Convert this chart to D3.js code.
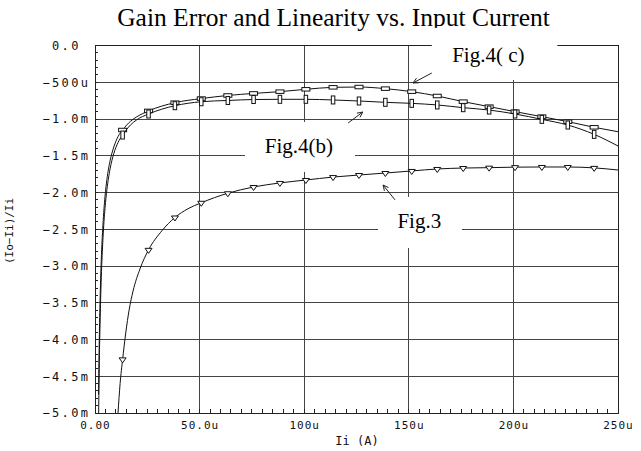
<!DOCTYPE html>
<html><head><meta charset="utf-8">
<script src="https://cdn.jsdelivr.net/npm/d3@7"></script>
<style>body{margin:0;background:#fff} svg{display:block}</style>
</head><body>
<svg id="c" width="641" height="451"></svg>
<script>
// ---------- data ----------
const titleText = "Gain Error and Linearity vs. Input Current";
const xTitle = "Ii (A)";
const yTitle = "(Io−Ii)/Ii";
const xTickValues = [0, 50, 100, 150, 200, 250];            // uA
const xTickLabels = ["0.00", "50.0u", "100u", "150u", "200u", "250u"];
const yTickValues = [0, -0.5, -1, -1.5, -2, -2.5, -3, -3.5, -4, -4.5, -5]; // milli
const yTickLabels = ["0.0", "−500u", "−1.0m", "−1.5m", "−2.0m", "−2.5m", "−3.0m", "−3.5m", "−4.0m", "−4.5m", "−5.0m"];

const markerCurrents = [13.2, 25.6, 38.2, 50.8, 63.5, 75.8, 88.4, 100.8, 113.8, 126.2, 138.8, 151.4, 163.6, 176, 188.4, 200.8, 213.6, 226, 238.6];

const fig4cCurrent = [1.7, 2.0, 2.4, 3.0, 3.8, 4.8, 5.7, 7.2, 9.0, 11.0, 13.2, 17, 20, 25.6, 38.2, 50.8, 63.5, 75.8, 88.4, 100.8, 113.8, 126.2, 138.8, 151.4, 163.6, 176, 188.4, 200.8, 213.6, 226, 238.6, 250];
const fig4cError   = [-4.75, -4.1, -3.5, -2.92, -2.44, -2.05, -1.82, -1.57, -1.38, -1.24, -1.15, -1.03, -0.97, -0.89, -0.778, -0.722, -0.68, -0.652, -0.628, -0.596, -0.569, -0.565, -0.587, -0.628, -0.687, -0.764, -0.832, -0.90, -0.968, -1.036, -1.113, -1.173];

const fig4bCurrent = [1.75, 2.0, 2.4, 3.0, 3.8, 4.8, 5.7, 7.2, 9.0, 11.0, 13.2, 17, 20, 25.6, 38.2, 50.8, 63.5, 75.8, 88.4, 100.8, 113.8, 126.2, 138.8, 151.4, 163.6, 176, 188.4, 200.8, 213.6, 226, 238.6, 250];
const fig4bError   = [-5.0, -4.4, -3.8, -3.16, -2.63, -2.21, -1.96, -1.68, -1.47, -1.32, -1.218, -1.08, -1.01, -0.932, -0.819, -0.765, -0.748, -0.735, -0.732, -0.732, -0.741, -0.755, -0.773, -0.787, -0.809, -0.846, -0.878, -0.932, -1.005, -1.082, -1.209, -1.367];

const fig3Current = [11.0, 12.0, 13.2, 16.3, 18.2, 21.5, 25.6, 32, 38.2, 44.5, 50.8, 63.5, 75.8, 88.4, 100.8, 113.8, 126.2, 138.8, 151.4, 163.6, 176, 188.4, 200.8, 213.6, 226, 238.6, 250];
const fig3Error   = [-5.0, -4.6, -4.27, -3.6, -3.34, -3.04, -2.78, -2.52, -2.34, -2.22, -2.14, -2.01, -1.925, -1.87, -1.83, -1.79, -1.762, -1.735, -1.707, -1.68, -1.667, -1.662, -1.655, -1.653, -1.653, -1.665, -1.694];

// ---------- layout ----------
const svg = d3.select("#c");
const x = d3.scaleLinear().domain([0, 250]).range([95, 618]);
const y = d3.scaleLinear().domain([0, -5]).range([45.5, 413]);
const ink = "#111";
const gridCol = "#444";
const monoFont = "'DejaVu Sans Mono', monospace";
const serifFont = "'Liberation Serif', 'Times New Roman', serif";

// title
svg.append("text").attr("x", 333.5).attr("y", 26).attr("text-anchor", "middle")
  .attr("font-family", serifFont).attr("font-size", 25.5).attr("fill", "#000").text(titleText);

// grid
const grid = svg.append("g").attr("shape-rendering", "crispEdges").attr("stroke", gridCol).attr("stroke-width", 1);
grid.selectAll("line.h").data(yTickValues.slice(1, -1)).join("line").attr("class", "h")
  .attr("x1", x(0)).attr("x2", x(250)).attr("y1", d => y(d)).attr("y2", d => y(d));
grid.selectAll("line.v").data(xTickValues.slice(1, -1)).join("line").attr("class", "v")
  .attr("y1", y(0)).attr("y2", y(-5)).attr("x1", d => x(d)).attr("x2", d => x(d));

// frame
svg.append("rect").attr("x", x(0)).attr("y", y(0)).attr("width", x(250) - x(0)).attr("height", y(-5) - y(0))
  .attr("fill", "none").attr("stroke", "#222").attr("shape-rendering", "crispEdges");

// minor ticks (inside)
const yMinor = d3.range(0, 51).map(i => -i / 10);
const xMinor = d3.range(0, 51).map(i => i * 5);
const mt = svg.append("g").attr("stroke", "#222").attr("shape-rendering", "crispEdges");
mt.selectAll("line.ym").data(yMinor).join("line").attr("class", "ym")
  .attr("x1", x(0)).attr("x2", x(0) + 3).attr("y1", d => y(d)).attr("y2", d => y(d));
mt.selectAll("line.xm").data(xMinor).join("line").attr("class", "xm")
  .attr("x1", d => x(d)).attr("x2", d => x(d)).attr("y1", y(-5)).attr("y2", y(-5) - 4);

// label boxes (white) – annotations, placed in data space
const annotations = [
  { text: "Fig.4( c)", tx: 188, ty: -0.224, box: [161, 221, 0.24, -0.469], tail: [161, -0.374], head: [152, -0.51] },
  { text: "Fig.4(b)", tx: 97.5, ty: -1.463, box: [71.7, 124.3, -1.04, -1.72], tail: [121, -1.054], head: [128, -0.905] },
  { text: "Fig.3", tx: 155, ty: -2.483, box: [135.3, 175.4, -2.06, -2.755], tail: [143.4, -2.1], head: [137.7, -1.898] }
];
svg.append("g").selectAll("rect").data(annotations).join("rect")
  .attr("x", d => x(d.box[0])).attr("width", d => x(d.box[1]) - x(d.box[0]))
  .attr("y", d => y(d.box[2])).attr("height", d => y(d.box[3]) - y(d.box[2]))
  .attr("fill", "#fff");

// axes labels via d3 axes
const yAxis = d3.axisLeft(y).tickValues(yTickValues)
  .tickFormat((d, i) => /\d$/.test(yTickLabels[i]) ? yTickLabels[i] + "\u00A0" : yTickLabels[i])
  .tickSize(0).tickPadding(4.5);
const gy = svg.append("g").attr("transform", `translate(${x(0)},0)`).call(yAxis);
gy.select(".domain").remove();
gy.selectAll("text").attr("font-family", monoFont).attr("font-size", 12).attr("letter-spacing", "2.4px").attr("fill", "#111");

const xAxis = d3.axisBottom(x).tickValues(xTickValues).tickFormat((d, i) => xTickLabels[i])
  .tickSize(0).tickPadding(8);
const gx = svg.append("g").attr("transform", `translate(0,${y(-5)})`).call(xAxis);
gx.select(".domain").remove();
gx.selectAll("text").attr("font-family", monoFont).attr("font-size", 11).attr("letter-spacing", "1px").attr("fill", "#111");

svg.append("text").attr("x", 357).attr("y", 445).attr("text-anchor", "middle")
  .attr("font-family", monoFont).attr("font-size", 12).attr("fill", "#111").text(xTitle);
svg.append("text").attr("transform", "translate(13,231) rotate(-90)").attr("text-anchor", "middle")
  .attr("font-family", monoFont).attr("font-size", 11).attr("fill", "#111").text(yTitle);

// curves
const line = d3.line().x(d => x(d[0])).y(d => y(d[1])).curve(d3.curveMonotoneX);
const series = [
  { cur: fig4cCurrent, err: fig4cError, marker: "hrect" },
  { cur: fig4bCurrent, err: fig4bError, marker: "vrect" },
  { cur: fig3Current, err: fig3Error, marker: "tri" }
];
const plot = svg.append("g");
series.forEach(s => {
  const pts = s.cur.map((c, i) => [c, s.err[i]]);
  plot.append("path").datum(pts).attr("d", line).attr("fill", "none").attr("stroke", ink).attr("stroke-width", 1);
  const mk = pts.filter(p => markerCurrents.includes(p[0]));
  const g = plot.append("g");
  if (s.marker === "tri") {
    g.selectAll("path").data(mk).join("path")
      .attr("transform", d => `translate(${x(d[0])},${y(d[1])})`)
      .attr("d", "M-3.5,-1.5L3.5,-1.5L0,3.5Z").attr("fill", "#fff").attr("stroke", ink);
  } else {
    const w = s.marker === "hrect" ? 8 : 3.5, h = s.marker === "hrect" ? 3.5 : 8;
    g.selectAll("rect").data(mk).join("rect")
      .attr("x", d => x(d[0]) - w / 2).attr("y", d => y(d[1]) - h / 2)
      .attr("width", w).attr("height", h).attr("fill", "#fff").attr("stroke", ink);
  }
});

// annotation texts and arrows
const ann = svg.append("g");
annotations.forEach(a => {
  ann.append("text").attr("x", x(a.tx)).attr("y", y(a.ty)).attr("text-anchor", "middle")
    .attr("font-family", serifFont).attr("font-size", 21).attr("fill", "#000").text(a.text);
  const x1 = x(a.tail[0]), y1 = y(a.tail[1]), x2 = x(a.head[0]), y2 = y(a.head[1]);
  ann.append("line").attr("x1", x1).attr("y1", y1).attr("x2", x2).attr("y2", y2).attr("stroke", "#222");
  const ang = Math.atan2(y2 - y1, x2 - x1), L = 6, sp = 0.45;
  const p1 = [x2 - L * Math.cos(ang - sp), y2 - L * Math.sin(ang - sp)];
  const p2 = [x2 - L * Math.cos(ang + sp), y2 - L * Math.sin(ang + sp)];
  ann.append("path").attr("d", `M${p1}L${x2},${y2}L${p2}`).attr("fill", "none").attr("stroke", "#222");
});
</script>
</body></html>
